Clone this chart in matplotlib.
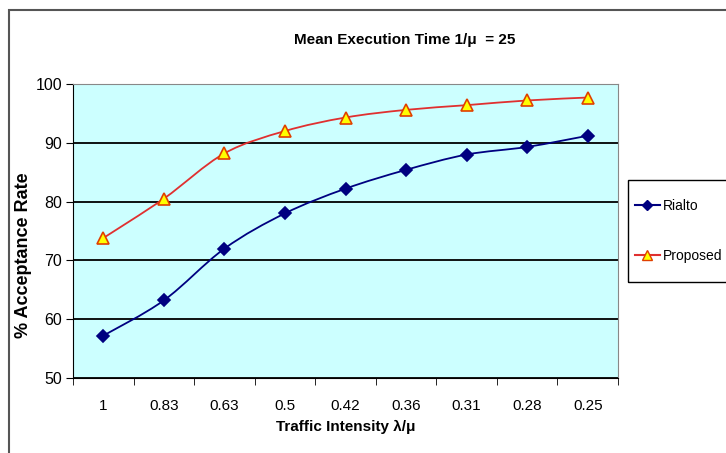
import matplotlib.pyplot as plt
import numpy as np
from matplotlib.path import Path
from matplotlib.patches import PathPatch, Rectangle
from matplotlib.lines import Line2D

categories = ["1", "0.83", "0.63", "0.5", "0.42", "0.36", "0.31", "0.28", "0.25"]
rialto = [57.2, 63.2, 72.0, 78.0, 82.2, 85.4, 88.0, 89.3, 91.2]
proposed = [73.8, 80.5, 88.2, 92.0, 94.3, 95.6, 96.4, 97.2, 97.7]

plt.rcParams['font.family'] = ["Liberation Sans", "DejaVu Sans"]

fig = plt.figure(figsize=(7.26, 4.53), dpi=100)
ax = fig.add_axes([73 / 726, 75 / 453, 545 / 726, 294 / 453])
ax.set_facecolor("#CCFFFF")

# outer chart border
fig.patches.append(Rectangle((9 / 726, -0.1), 1.2, 1.1 - 10 / 453, transform=fig.transFigure,
                             fill=False, edgecolor="#555555", lw=1.5))
# legend box
fig.patches.append(Rectangle((628 / 726, 1 - 282 / 453), 0.3, 102 / 453, transform=fig.transFigure,
                             fill=False, edgecolor="black", lw=1.0))


def smooth_path(xs, ys, t=1 / 6):
    # excel-like smoothed line as bezier segments through the data points
    pts = np.column_stack([xs, ys])
    verts = [pts[0]]
    codes = [Path.MOVETO]
    n = len(pts)
    for i in range(n - 1):
        p0 = pts[max(i - 1, 0)]
        p1 = pts[i]
        p2 = pts[i + 1]
        p3 = pts[min(i + 2, n - 1)]
        verts += [p1 + (p2 - p0) * t, p2 - (p3 - p1) * t, p2]
        codes += [Path.CURVE4] * 3
    return Path(verts, codes)


x = np.arange(len(categories))
for y, lc, mk, mfc, mec, ms in [(rialto, "#000080", "D", "#000080", "#000080", 6),
                                 (proposed, "#E03030", "^", "#FFFF00", "#E04000", 8)]:
    ax.add_patch(PathPatch(smooth_path(x, y), fill=False, edgecolor=lc, lw=1.3, zorder=3))
    ax.plot(x, y, ls="none", marker=mk, ms=ms, mfc=mfc, mec=mec, mew=1.2, zorder=4)

ax.set_xlim(-0.5, len(categories) - 0.5)
ax.set_ylim(50, 100)
ax.set_yticks(range(50, 101, 10))
ax.grid(axis="y", color="black", lw=1.3)
ax.set_axisbelow(True)

ax.set_xticks(x)
ax.set_xticklabels(categories, fontsize=11)
ax.set_xticks(np.arange(-0.5, len(categories), 1), minor=True)
ax.tick_params(axis="x", which="major", length=0, pad=15)
ax.tick_params(axis="x", which="minor", length=5, direction="out", color="black")
ax.tick_params(axis="y", length=5, direction="out", labelsize=11.5, pad=3)

for s in ["top", "right"]:
    ax.spines[s].set_color("#888888")
for s in ["left", "bottom"]:
    ax.spines[s].set_color("black")

fig.text(405 / 726, 1 - 40 / 453, "Mean Execution Time 1/\u03bc  = 25", fontsize=11,
         fontweight="bold", ha="center", va="center")
ax.set_xlabel("Traffic Intensity \u03bb/\u03bc", fontsize=11, fontweight="bold", labelpad=5)
ax.set_ylabel("% Acceptance Rate", fontsize=13, fontweight="bold")
ax.yaxis.set_label_coords(-41 / 545, 123 / 294)

handles = [Line2D([], [], color="#000080", marker="D", ms=5, mfc="#000080", mec="#000080"),
           Line2D([], [], color="#E03030", marker="^", ms=7, mfc="#FFFF00", mec="#E04000")]
leg = fig.legend(handles, ["Rialto", "Proposed"], loc="center left",
                 bbox_to_anchor=(628 / 726, 1 - 231 / 453), frameon=False,
                 fontsize=10, handlelength=1.8, handletextpad=0.2,
                 labelspacing=2.6, borderpad=0.5, borderaxespad=0)

fig.savefig("out.png", dpi=100)
